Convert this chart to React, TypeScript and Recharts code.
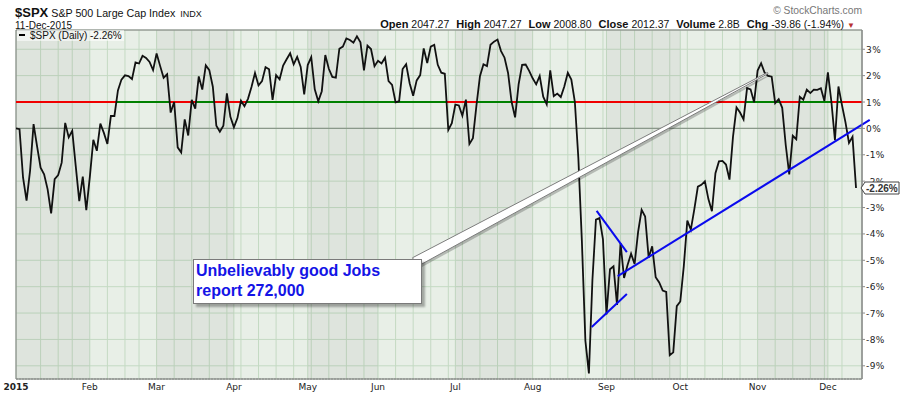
import React from "react";
import {
  ComposedChart,
  Line,
  XAxis,
  YAxis,
  CartesianGrid,
  ReferenceLine,
  ReferenceArea,
  ReferenceDot,
} from "recharts";

// NYSE closures in 2015 (weekdays without a session)
const HOLIDAYS = [
  "2015-01-01", "2015-01-19", "2015-02-16", "2015-04-03",
  "2015-05-25", "2015-07-03", "2015-09-07", "2015-11-26",
];
const BASE_DATE = "2014-12-31";
const MONTH_NAMES = ["2015", "Feb", "Mar", "Apr", "May", "Jun", "Jul", "Aug", "Sep", "Oct", "Nov", "Dec"];

// $SPX % change vs the 31-Dec-2014 close, one value per session
const janPct = [-0.03, -1.86, -2.74, -1.61, 0.16, -0.68, -1.49, -1.74, -2.31, -3.22, -1.92, -1.77, -1.3, 0.21, -0.34, -0.09, -1.43, -2.76, -1.83, -3.1];
const febPct = [-1.85, -0.43, -0.85, 0.18, -0.17, -0.59, 0.47, 0.47, 1.44, 1.85, 2.01, 1.98, 1.87, 2.5, 2.46, 2.75, 2.67, 2.52, 2.21];
const marPct = [2.84, 2.37, 1.92, 2.05, 0.6, 1.0, -0.72, -0.91, 0.34, -0.27, 1.08, 0.75, 1.97, 1.47, 2.39, 2.21, 1.58, 0.1, -0.13, 0.1, 1.33, 0.44];
const aprPct = [0.04, 0.39, 1.05, 0.84, 1.12, 1.57, 2.1, 1.63, 1.79, 2.32, 2.24, 1.08, 2.02, 1.86, 2.38, 2.62, 2.85, 2.43, 2.71, 2.33, 1.29];
const mayPct = [2.4, 2.7, 1.48, 1.03, 1.41, 2.78, 2.26, 1.95, 1.92, 3.02, 3.1, 3.41, 3.35, 3.25, 3.49, 3.26, 2.2, 3.14, 3.01, 2.36];
const junPct = [2.56, 2.46, 2.68, 1.79, 1.65, 0.99, 1.03, 2.25, 2.43, 1.71, 1.24, 1.82, 2.02, 3.03, 2.48, 3.1, 3.17, 2.41, 2.11, 2.07, -0.06, 0.2];
const julPct = [0.9, 0.87, 0.48, 1.09, -0.59, -0.37, 0.86, 1.98, 2.43, 2.36, 3.17, 3.29, 3.37, 2.93, 2.68, 2.1, 1.01, 0.42, 1.67, 2.41, 2.42, 2.18];
const augPct = [1.9, 1.67, 1.99, 1.2, 0.91, 2.2, 1.22, 1.32, 1.19, 1.59, 2.11, 1.85, 1.01, -1.13, -4.27, -8.05, -9.29, -5.75, -3.46, -3.4, -4.21];
const sepPct = [-7.05, -5.34, -5.23, -6.69, -4.35, -5.67, -5.18, -4.75, -5.14, -3.92, -3.09, -3.34, -4.9, -4.47, -5.64, -5.84, -6.15, -6.2, -8.6, -8.49, -6.74];
const octPct = [-6.56, -5.22, -3.49, -3.84, -3.06, -2.21, -2.14, -2.01, -2.68, -3.14, -1.7, -1.25, -1.23, -1.37, -1.94, -0.31, 0.79, 0.6, 0.34, 1.53, 1.48, 0.99];
const novPct = [2.19, 2.47, 2.11, 1.99, 1.96, 0.96, 1.11, 0.78, -0.63, -1.74, -0.28, -0.41, 1.2, 1.09, 1.47, 1.34, 1.47, 1.46, 1.52, 1.04];
const decPct = [2.12, 1.0, -0.45, 1.59, 0.88, 0.23, -0.55, -0.32, -2.26];

const Y_TICKS = [3, 2, 1, 0, -1, -2, -3, -4, -5, -6, -7, -8, -9];
const LEVEL = 1;

// drawn trend lines + callout pointer, in (session index, %) units
const trendMain = [{ x: 171.2, y: -5.6 }, { x: 242.9, y: 0.32 }];
const trendUpper = [{ x: 165.2, y: -3.13 }, { x: 173.8, y: -4.69 }];
const trendLower = [{ x: 163.8, y: -7.53 }, { x: 173.8, y: -6.28 }];
const calloutPointer = [{ x: 113.5, y: -5.07 }, { x: 213.9, y: 2.1 }];

const quote = [
  ["Open", "2047.27"],
  ["High", "2047.27"],
  ["Low", "2008.80"],
  ["Close", "2012.37"],
  ["Volume", "2.8B"],
  ["Chg", "-39.86 (-1.94%)"],
];

const X_MAX = 240.7;
const Y_MIN = -9.5;
const Y_MAX = 3.73;

const SANS = "'Liberation Sans', Arial, sans-serif";
const AXIS_FONT = "'DejaVu Sans', Verdana, sans-serif";

function tradingDays(): string[] {
  const out: string[] = [];
  const d = new Date(Date.UTC(2015, 0, 1));
  const end = Date.UTC(2015, 11, 11);
  while (d.getTime() <= end) {
    const dow = d.getUTCDay();
    const iso = d.toISOString().slice(0, 10);
    if (dow !== 0 && dow !== 6 && !HOLIDAYS.includes(iso)) out.push(iso);
    d.setUTCDate(d.getUTCDate() + 1);
  }
  return out;
}

const dates = [BASE_DATE, ...tradingDays()];
const pct = [0, ...janPct, ...febPct, ...marPct, ...aprPct, ...mayPct, ...junPct, ...julPct, ...augPct, ...sepPct, ...octPct, ...novPct, ...decPct];
const series = dates.map((date, i) => ({ x: i, date, v: pct[i] }));
const lastIdx = series.length - 1;

const monthStarts: number[] = [];
const weekStarts: number[] = [];
const dayNo = (s: string) => {
  const d = new Date(s + "T00:00:00Z");
  return d.getTime() / 86400000 - ((d.getUTCDay() + 6) % 7);
};
dates.forEach((iso, i) => {
  if (i === 0) return;
  const prev = dates[i - 1];
  if (iso.slice(5, 7) !== prev.slice(5, 7)) monthStarts.push(i);
  if (dayNo(iso) !== dayNo(prev)) weekStarts.push(i);
});

const monthTicks = [0, ...monthStarts.slice(1)];
const gridTicks = Array.from(new Set([...weekStarts, ...monthStarts]))
  .filter((i) => i > 3)
  .sort((a, b) => a - b);

const oddMonthBands = monthStarts
  .map((s, m) => ({ x1: m === 0 ? 0 : s, x2: m === 11 ? X_MAX : monthStarts[m + 1], m }))
  .filter((b) => b.m % 2 === 0);

// 1% level: green where the index is above it, red elsewhere
function levelAbove(values: number[], level: number) {
  const pts: { x: number; y: number | null }[] = [];
  values.forEach((v, i) => {
    if (i > 0) {
      const p = values[i - 1];
      const wasUp = p >= level;
      const isUp = v >= level;
      if (wasUp !== isUp) {
        const t = i - 1 + (level - p) / (v - p);
        pts.push({ x: t, y: level });
        if (!isUp) pts.push({ x: t, y: null });
      }
    }
    if (v >= level) pts.push({ x: i, y: level });
  });
  return pts;
}
const greenLevel = levelAbove(pct, LEVEL);
const redLevel = [{ x: 0, y: LEVEL }, { x: X_MAX, y: LEVEL }];

function MonthTick({ x, y, payload }: any) {
  const i = monthTicks.indexOf(payload.value);
  return (
    <text x={x} y={y} dy={11} textAnchor="middle" fontFamily={AXIS_FONT} fontSize={9}
      fontWeight={i === 0 ? "bold" : "normal"} fill="#222">
      {MONTH_NAMES[i]}
    </text>
  );
}

function PctTick({ x, y, payload }: any) {
  return (
    <text x={x - 1} y={y} dy={3.5} textAnchor="start" fontFamily={AXIS_FONT} fontSize={9}
      letterSpacing={0.4} fill="#222">
      {payload.value}%
    </text>
  );
}

function LastTag({ cx, cy }: any) {
  const t = cx + 5;
  return (
    <g>
      <path d={`M${t},${cy} L${t + 4},${cy - 6} L${cx + 43},${cy - 6} L${cx + 43},${cy + 6} L${t + 4},${cy + 6} Z`}
        fill="#fff" stroke="#444" strokeWidth={1} />
      <text x={cx + 10} y={cy + 3.8} fontFamily={SANS} fontSize={10} fontWeight="bold" fill="#333">
        {pct[lastIdx].toFixed(2)}%
      </text>
    </g>
  );
}

function CalloutWedge({ x1, y1, x2, y2 }: any) {
  const dx = x2 - x1;
  const dy = y2 - y1;
  const len = Math.hypot(dx, dy);
  const nx = -dy / len;
  const ny = dx / len;
  const pts = [
    [x1 + nx * 5, y1 + ny * 5],
    [x2 + nx * 0.6, y2 + ny * 0.6],
    [x2 - nx * 0.6, y2 - ny * 0.6],
    [x1 - nx * 5, y1 - ny * 5],
  ];
  return (
    <g>
      <polygon points={pts.map(([a, b]) => `${a + 2},${b + 2}`).join(" ")} fill="rgba(0,0,0,0.22)" />
      <polygon points={pts.map(([a, b]) => `${a},${b}`).join(" ")} fill="#fff" stroke="#7d7d7d" strokeWidth={1} />
    </g>
  );
}

export default function App() {
  return (
    <div style={{ position: "absolute", left: 0, top: 0, width: 900, height: 396, background: "#fff", fontFamily: SANS }}>
      <ComposedChart width={900} height={396} data={series} margin={{ top: 30, right: 0, bottom: 0, left: 16 }}>
        <CartesianGrid xAxisId="grid" fill="#e8efe7" stroke="#c4dac3" strokeWidth={1} />
        <XAxis xAxisId="grid" type="number" dataKey="x" domain={[0, X_MAX]} ticks={gridTicks}
          interval={0} hide allowDataOverflow />
        <XAxis type="number" dataKey="x" domain={[0, X_MAX]} ticks={monthTicks} interval={0}
          allowDataOverflow height={17} tickLine={false} tickSize={0} tickMargin={0}
          axisLine={{ stroke: "#8c8c8c", strokeDasharray: "2 1" }} tick={<MonthTick />} />
        <YAxis orientation="right" width={38} domain={[Y_MIN, Y_MAX]} ticks={Y_TICKS} interval={0}
          allowDataOverflow tickSize={3} tickMargin={2} axisLine={{ stroke: "#8c8c8c" }}
          tickLine={{ stroke: "#8c8c8c" }} tick={<PctTick />} />
        {oddMonthBands.map((b) => (
          <ReferenceArea key={b.m} x1={b.x1} x2={b.x2} y1={Y_MIN} y2={Y_MAX} fill="#000"
            fillOpacity={0.045} stroke="none" ifOverflow="hidden" />
        ))}
        <ReferenceArea x1={0} x2={X_MAX} y1={Y_MIN} y2={Y_MAX} fill="none" stroke="#7f7f7f"
          strokeWidth={1} ifOverflow="visible" />
        <ReferenceLine y={0} stroke="#8a988a" strokeWidth={1.2} />
        <Line data={redLevel} dataKey="y" stroke="#f00000" strokeWidth={2.2} dot={false}
          isAnimationActive={false} />
        <Line data={greenLevel} dataKey="y" stroke="#008000" strokeWidth={2.2} dot={false}
          connectNulls={false} isAnimationActive={false} />
        <Line dataKey="v" type="linear" stroke="#111" strokeWidth={1.8} dot={false}
          isAnimationActive={false} />
        <ReferenceLine segment={trendMain} stroke="#0a0aee" strokeWidth={2} ifOverflow="visible" />
        <ReferenceLine segment={trendUpper} stroke="#0a0aee" strokeWidth={2} ifOverflow="visible" />
        <ReferenceLine segment={trendLower} stroke="#0a0aee" strokeWidth={2} ifOverflow="visible" />
        <ReferenceLine segment={calloutPointer} ifOverflow="visible" shape={(p: any) => <CalloutWedge {...p} />} />
        <ReferenceDot x={lastIdx} y={pct[lastIdx]} r={0} ifOverflow="visible" zIndex={2500}
          shape={(p: any) => <LastTag {...p} />} />
      </ComposedChart>

      {/* header */}
      <div style={{ position: "absolute", left: 15, top: 5, whiteSpace: "nowrap", lineHeight: "13px", color: "#111" }}>
        <span style={{ fontWeight: "bold", fontSize: 13 }}>$SPX</span>
        <span style={{ fontSize: 10.7, marginLeft: 3 }}>S&amp;P 500 Large Cap Index</span>
        <span style={{ fontSize: 9, marginLeft: 5 }}>INDX</span>
      </div>
      <div style={{ position: "absolute", left: 15, top: 20.5, fontSize: 10, lineHeight: "10px", color: "#111" }}>
        11-Dec-2015
      </div>
      <div style={{ position: "absolute", right: 38, top: 5, fontSize: 10.3, lineHeight: "12px", color: "#777" }}>
        © StockCharts.com
      </div>
      <div style={{ position: "absolute", right: 45, top: 18, fontSize: 10.5, lineHeight: "12px", color: "#111", whiteSpace: "nowrap" }}>
        {quote.map(([k, v], i) => (
          <span key={k} style={{ marginLeft: i === 0 ? 0 : 7 }}>
            <b style={{ fontSize: 11 }}>{k}</b> {v}
          </span>
        ))}
        <span style={{ color: "#b83232", fontSize: 8, marginLeft: 3 }}>▼</span>
      </div>

      {/* legend */}
      <div style={{ position: "absolute", left: 17, top: 30, width: 107, height: 11, background: "rgba(255,255,255,0.55)",
        fontSize: 10, lineHeight: "11px", color: "#111", whiteSpace: "nowrap" }}>
        <span style={{ display: "inline-block", width: 6, height: 2, background: "#000", margin: "0 5px 3px 2px" }} />
        $SPX (Daily) -2.26%
      </div>

      {/* annotation box */}
      <div style={{ position: "absolute", left: 193, top: 259, width: 229, height: 45, boxSizing: "border-box",
        background: "#fff", border: "1px solid #7a7a7a", boxShadow: "3px 3px 2px rgba(0,0,0,0.3)",
        padding: "1px 0 0 2px", color: "#1414e6", fontWeight: "bold", fontSize: 16, lineHeight: "19.5px" }}>
        Unbelievably good Jobs
        <br />
        report 272,000
      </div>
    </div>
  );
}
